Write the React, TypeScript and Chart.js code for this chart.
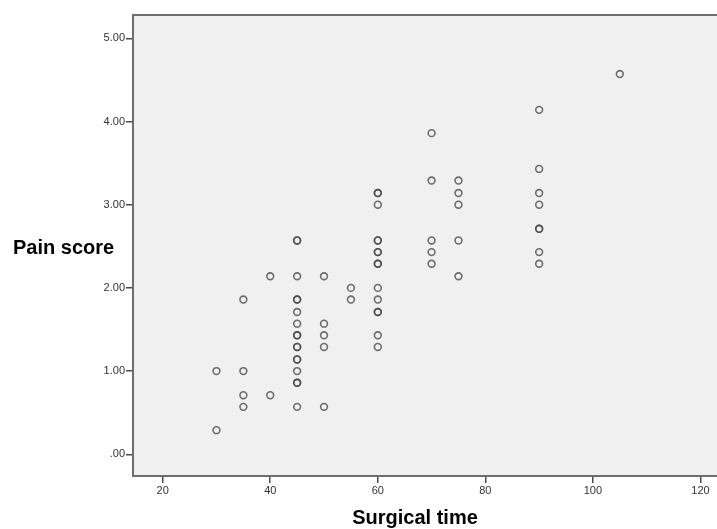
import React, { useEffect, useRef } from "react";
import { Chart, registerables } from "chart.js";

Chart.register(...registerables);

// Surgical time (x) and pain score (y); repeated pairs are overlapping cases
const surgicalTime = [
  30, 30,
  35, 35, 35, 35,
  40, 40,
  45, 45, 45, 45, 45, 45, 45, 45, 45, 45, 45, 45, 45, 45, 45, 45, 45,
  50, 50, 50, 50, 50,
  55, 55,
  60, 60, 60, 60, 60, 60, 60, 60, 60, 60, 60, 60, 60, 60, 60,
  70, 70, 70, 70, 70,
  75, 75, 75, 75, 75,
  90, 90, 90, 90, 90, 90, 90, 90,
  105,
];
const painScore = [
  1.0, 0.29,
  1.86, 1.0, 0.71, 0.57,
  2.14, 0.71,
  2.57, 2.57, 2.14, 1.86, 1.86, 1.71, 1.57, 1.43, 1.43, 1.29, 1.29, 1.14, 1.14, 1.0, 0.86, 0.86, 0.57,
  2.14, 1.57, 1.43, 1.29, 0.57,
  2.0, 1.86,
  3.14, 3.14, 3.0, 2.57, 2.57, 2.43, 2.43, 2.29, 2.29, 2.0, 1.86, 1.71, 1.71, 1.43, 1.29,
  3.86, 3.29, 2.57, 2.43, 2.29,
  3.29, 3.14, 3.0, 2.57, 2.14,
  4.14, 3.43, 3.14, 3.0, 2.71, 2.71, 2.43, 2.29,
  4.57,
];

const xTicks = [20, 40, 60, 80, 100, 120];
const yTicks = [0, 1, 2, 3, 4, 5];
const xTitle = "Surgical time";
const yTitle = "Pain score";

export default function App() {
  const ref = useRef<HTMLCanvasElement | null>(null);

  useEffect(() => {
    document.body.style.margin = "0";
    const canvas = ref.current;
    if (!canvas) return;

    const points = surgicalTime.map((x, i) => ({ x, y: painScore[i] }));
    const frameColor = "#6e6e6e";

    const framePlugin = {
      id: "frame",
      beforeDraw(chart: any) {
        const { ctx, chartArea } = chart;
        ctx.save();
        ctx.fillStyle = "#f0f0f0";
        ctx.fillRect(
          chartArea.left,
          chartArea.top,
          chartArea.right - chartArea.left,
          chartArea.bottom - chartArea.top
        );
        ctx.restore();
      },
      afterDraw(chart: any) {
        const { ctx, chartArea } = chart;
        ctx.save();
        ctx.strokeStyle = frameColor;
        ctx.lineWidth = 2;
        ctx.beginPath();
        ctx.moveTo(chartArea.left - 1, chartArea.top);
        ctx.lineTo(chartArea.right, chartArea.top);
        ctx.stroke();
        ctx.fillStyle = "#000";
        ctx.font = 'bold 20px "Liberation Sans", Arial, sans-serif';
        ctx.textBaseline = "alphabetic";
        ctx.textAlign = "left";
        ctx.fillText(yTitle, 13, 254);
        ctx.textAlign = "center";
        ctx.fillText(xTitle, 415, 524);
        ctx.restore();
      },
    };

    const tickFont = { family: '"Liberation Sans", Arial, sans-serif', size: 11 };

    const chart = new Chart(canvas, {
      type: "scatter",
      data: {
        datasets: [
          {
            data: points,
            pointRadius: 3.4,
            pointHoverRadius: 3.4,
            pointBorderWidth: 1.6,
            borderColor: "rgba(70,70,70,0.78)",
            backgroundColor: "rgba(0,0,0,0)",
          },
        ],
      },
      options: {
        animation: false,
        responsive: false,
        devicePixelRatio: 1,
        events: [],
        layout: { autoPadding: false, padding: { top: 15, right: 0, left: 0, bottom: 0 } },
        plugins: {
          legend: { display: false },
          tooltip: { enabled: false },
        },
        scales: {
          x: {
            type: "linear",
            min: 14.48,
            max: 123.07,
            afterBuildTicks: (axis: any) => {
              axis.ticks = xTicks.map((v) => ({ value: v }));
            },
            afterFit: (axis: any) => {
              axis.height = 53;
              axis.paddingLeft = 0;
              axis.paddingRight = 0;
            },
            grid: {
              drawOnChartArea: false,
              drawTicks: true,
              tickLength: 7,
              color: "#4a4a4a",
              lineWidth: 1.5,
            },
            border: { display: true, color: frameColor, width: 2 },
            ticks: {
              color: "#333",
              font: tickFont,
              padding: 1,
              maxRotation: 0,
              autoSkip: false,
              callback: (v: any) => String(v),
            },
          },
          y: {
            type: "linear",
            min: -0.261,
            max: 5.28,
            afterBuildTicks: (axis: any) => {
              axis.ticks = yTicks.map((v) => ({ value: v }));
            },
            afterFit: (axis: any) => {
              axis.width = 133;
              axis.paddingTop = 0;
              axis.paddingBottom = 0;
            },
            grid: {
              drawOnChartArea: false,
              drawTicks: true,
              tickLength: 7,
              color: "#4a4a4a",
              lineWidth: 1.5,
            },
            border: { display: true, color: frameColor, width: 2 },
            ticks: {
              color: "#333",
              font: tickFont,
              padding: 1,
              autoSkip: false,
              callback: (v: any) => (Number(v) === 0 ? ".00" : Number(v).toFixed(2)),
            },
          },
        },
      },
      plugins: [framePlugin],
    });

    return () => chart.destroy();
  }, []);

  return (
    <canvas
      ref={ref}
      width={717}
      height={529}
      style={{ display: "block", width: 717, height: 529 }}
    />
  );
}
